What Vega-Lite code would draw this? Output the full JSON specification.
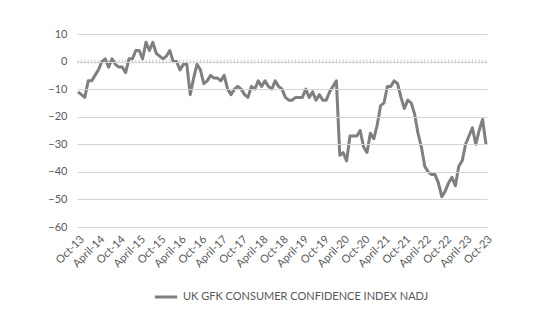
{
  "$schema": "https://vega.github.io/schema/vega-lite/v6.json",
  "autosize": {"type": "none"},
  "width": 410,
  "height": 193,
  "padding": {"left": 77, "top": 34, "right": 63, "bottom": 103},
  "background": "white",
  "config": {
    "view": {"stroke": null},
    "font": "Lato",
    "axis": {"labelFont": "Lato", "labelFontSize": 11, "labelColor": "#595959", "domain": false, "ticks": false}
  },
  "data": {"values": [
    {"m":"Oct-13","v":-11},{"m":"Nov-13","v":-12},{"m":"Dec-13","v":-13},
    {"m":"Jan-14","v":-7},{"m":"Feb-14","v":-7},{"m":"Mar-14","v":-5},{"m":"April-14","v":-3},{"m":"May-14","v":0},{"m":"Jun-14","v":1},{"m":"Jul-14","v":-2},{"m":"Aug-14","v":1},{"m":"Sep-14","v":-1},{"m":"Oct-14","v":-2},{"m":"Nov-14","v":-2},{"m":"Dec-14","v":-4},
    {"m":"Jan-15","v":1},{"m":"Feb-15","v":1},{"m":"Mar-15","v":4},{"m":"April-15","v":4},{"m":"May-15","v":1},{"m":"Jun-15","v":7},{"m":"Jul-15","v":4},{"m":"Aug-15","v":7},{"m":"Sep-15","v":3},{"m":"Oct-15","v":2},{"m":"Nov-15","v":1},{"m":"Dec-15","v":2},
    {"m":"Jan-16","v":4},{"m":"Feb-16","v":0},{"m":"Mar-16","v":0},{"m":"April-16","v":-3},{"m":"May-16","v":-1},{"m":"Jun-16","v":-1},{"m":"Jul-16","v":-12},{"m":"Aug-16","v":-6},{"m":"Sep-16","v":-1},{"m":"Oct-16","v":-3},{"m":"Nov-16","v":-8},{"m":"Dec-16","v":-7},
    {"m":"Jan-17","v":-5},{"m":"Feb-17","v":-6},{"m":"Mar-17","v":-6},{"m":"April-17","v":-7},{"m":"May-17","v":-5},{"m":"Jun-17","v":-10},{"m":"Jul-17","v":-12},{"m":"Aug-17","v":-10},{"m":"Sep-17","v":-9},{"m":"Oct-17","v":-10},{"m":"Nov-17","v":-12},{"m":"Dec-17","v":-13},
    {"m":"Jan-18","v":-9},{"m":"Feb-18","v":-10},{"m":"Mar-18","v":-7},{"m":"April-18","v":-9},{"m":"May-18","v":-7},{"m":"Jun-18","v":-9},{"m":"Jul-18","v":-10},{"m":"Aug-18","v":-7},{"m":"Sep-18","v":-9},{"m":"Oct-18","v":-10},{"m":"Nov-18","v":-13},{"m":"Dec-18","v":-14},
    {"m":"Jan-19","v":-14},{"m":"Feb-19","v":-13},{"m":"Mar-19","v":-13},{"m":"April-19","v":-13},{"m":"May-19","v":-10},{"m":"Jun-19","v":-13},{"m":"Jul-19","v":-11},{"m":"Aug-19","v":-14},{"m":"Sep-19","v":-12},{"m":"Oct-19","v":-14},{"m":"Nov-19","v":-14},{"m":"Dec-19","v":-11},
    {"m":"Jan-20","v":-9},{"m":"Feb-20","v":-7},{"m":"Mar-20","v":-34},{"m":"April-20","v":-33},{"m":"May-20","v":-36},{"m":"Jun-20","v":-27},{"m":"Jul-20","v":-27},{"m":"Aug-20","v":-27},{"m":"Sep-20","v":-25},{"m":"Oct-20","v":-31},{"m":"Nov-20","v":-33},{"m":"Dec-20","v":-26},
    {"m":"Jan-21","v":-28},{"m":"Feb-21","v":-23},{"m":"Mar-21","v":-16},{"m":"April-21","v":-15},{"m":"May-21","v":-9},{"m":"Jun-21","v":-9},{"m":"Jul-21","v":-7},{"m":"Aug-21","v":-8},{"m":"Sep-21","v":-13},{"m":"Oct-21","v":-17},{"m":"Nov-21","v":-14},{"m":"Dec-21","v":-15},
    {"m":"Jan-22","v":-19},{"m":"Feb-22","v":-26},{"m":"Mar-22","v":-31},{"m":"April-22","v":-38},{"m":"May-22","v":-40},{"m":"Jun-22","v":-41},{"m":"Jul-22","v":-41},{"m":"Aug-22","v":-44},{"m":"Sep-22","v":-49},{"m":"Oct-22","v":-47},{"m":"Nov-22","v":-44},{"m":"Dec-22","v":-42},
    {"m":"Jan-23","v":-45},{"m":"Feb-23","v":-38},{"m":"Mar-23","v":-36},{"m":"April-23","v":-30},{"m":"May-23","v":-27},{"m":"Jun-23","v":-24},{"m":"Jul-23","v":-30},{"m":"Aug-23","v":-25},{"m":"Sep-23","v":-21},{"m":"Oct-23","v":-30}
  ]},
  "encoding": {
    "x": {
      "field": "m", "type": "ordinal", "sort": null,
      "scale": {"type": "point", "padding": 0.3},
      "axis": {
        "title": null, "labelAngle": -45, "labelPadding": 6, "grid": false, "labelColor": "#595959",
        "values": ["Oct-13","April-14","Oct-14","April-15","Oct-15","April-16","Oct-16","April-17","Oct-17","April-18","Oct-18","April-19","Oct-19","April-20","Oct-20","April-21","Oct-21","April-22","Oct-22","April-23","Oct-23"]
      }
    }
  },
  "layer": [
    {
      "mark": {"type": "rule", "color": "#c8c8c8", "strokeWidth": 1},
      "encoding": {
        "y": {
          "datum": -0.7, "type": "quantitative",
          "scale": {"domain": [-60, 10], "nice": false},
          "axis": {"title": null, "values": [-60,-50,-40,-30,-20,-10,0,10], "labelOverlap": false, "labelColor": "#595959", "grid": true, "gridColor": "#d4d4d4", "gridWidth": 1, "gridOpacity": 1, "zindex": 1, "labelPadding": 10}
        },
        "y2": {"datum": 0.7}
      }
    },
    {
      "mark": {"type": "line", "strokeWidth": 3, "strokeJoin": "round"},
      "encoding": {
        "y": {
          "field": "v", "type": "quantitative",
          "scale": {"domain": [-60, 10], "nice": false},
          "axis": {"title": null, "values": [-60,-50,-40,-30,-20,-10,0,10], "labelOverlap": false, "labelColor": "#595959", "grid": true, "gridColor": "#d4d4d4", "gridWidth": 1, "gridOpacity": 1, "zindex": 1, "labelPadding": 10}
        },
        "color": {
          "datum": "UK GFK CONSUMER CONFIDENCE INDEX NADJ",
          "scale": {"range": ["#7f7f7f"]},
          "legend": {
            "title": null, "orient": "none", "legendX": 76, "legendY": 250,
            "symbolType": "stroke", "symbolStrokeWidth": 3, "symbolSize": 500,
            "labelFont": "Lato", "labelFontSize": 11, "labelColor": "#595959", "labelLimit": 400
          }
        }
      }
    }
  ]
}
